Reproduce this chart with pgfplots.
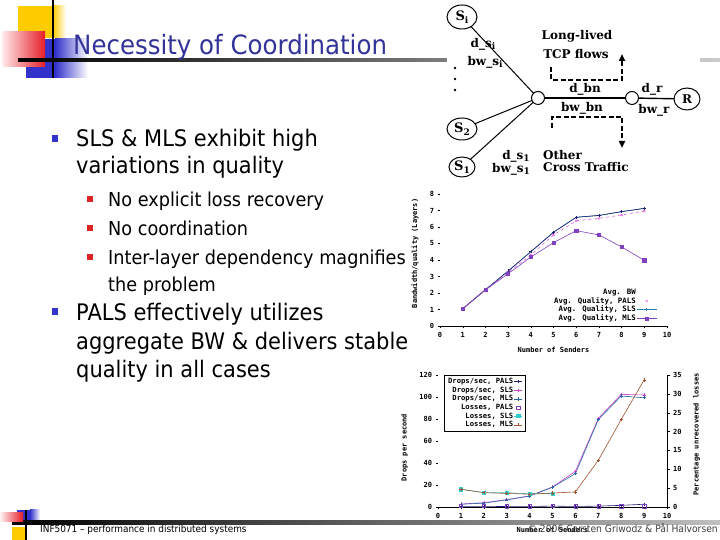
\documentclass[border=0pt]{standalone}
\usepackage{pgfplots}
\pgfplotsset{compat=1.18}
\usepackage{fontspec}
\setmainfont{DejaVu Sans}
\newfontfamily\tahoma[FakeStretch=0.92]{DejaVu Sans}
\newfontfamily\gp{DejaVu Sans Mono}
\newfontfamily\tms{DejaVu Serif}
\usetikzlibrary{arrows.meta}
\definecolor{titleblue}{RGB}{51,51,153}
\definecolor{bulblue}{RGB}{51,51,204}
\definecolor{bulred}{RGB}{221,34,34}
\definecolor{logoyellow}{RGB}{255,204,0}
\definecolor{logoblue}{RGB}{51,51,204}
\definecolor{logored}{RGB}{230,30,40}
\definecolor{cnavy}{RGB}{32,32,112}
\definecolor{cpink}{RGB}{220,100,220}
\definecolor{cteal}{RGB}{40,130,170}
\definecolor{cpurple}{RGB}{128,64,192}
\definecolor{cmag}{RGB}{204,68,204}
\definecolor{cblue}{RGB}{34,102,170}
\definecolor{ccyan}{RGB}{51,204,204}
\definecolor{cbrown}{RGB}{160,82,45}
\newcommand{\gpf}{\gp\bfseries\fontsize{7}{7.5}\selectfont}
\newcommand{\gps}{\gp\bfseries\fontsize{7.4}{8}\selectfont}
\newcommand{\gpl}{\gp\bfseries\fontsize{7.2}{8}\selectfont}
\newcommand{\sub}[1]{\raisebox{-2.5pt}{\fontsize{9}{9}\selectfont #1}}
\begin{document}
\begin{tikzpicture}[x=1pt,y=1pt]
\path[use as bounding box] (0,0) rectangle (720,540);
\fill[white] (0,0) rectangle (720,540);
% ---------- top logo ----------
\fill[logoyellow] (18,502) rectangle (53,534);
\shade[left color=logoyellow, right color=white] (53,502) rectangle (66,534);
\fill[logoblue] (26,462) rectangle (55,501);
\shade[left color=logoblue, right color=white] (55,462) rectangle (88,501);
\shade[left color=red!8, right color=logored] (2,473) rectangle (45,508);
\draw[black, line width=1.8pt] (53,540) -- (53,462);
\shade[left color=black, middle color=black!55, right color=black!20] (18,478.5) rectangle (720,481.5);
\fill[white] (447,470) rectangle (700,490);
% ---------- title ----------
\node[anchor=base west, inner sep=0pt, text=titleblue, font=\tahoma\fontsize{26.6}{27}\selectfont] at (73,485) {Necessity of Coordination};
% ---------- bullets ----------
\begin{scope}[every node/.style={anchor=base west, inner sep=0pt}]
\fill[bulblue] (52,398) rectangle (58,405);
\node[font=\tahoma\fontsize{22.8}{23}\selectfont] at (76,393.3) {SLS \& MLS exhibit high};
\node[font=\tahoma\fontsize{22.8}{23}\selectfont] at (76,366) {variations in quality};
\fill[bulred] (87,338) rectangle (93,344);
\node[font=\tahoma\fontsize{19.2}{20}\selectfont] at (108,333) {No explicit loss recovery};
\fill[bulred] (87,309) rectangle (93,315);
\node[font=\tahoma\fontsize{19.2}{20}\selectfont] at (108,304) {No coordination};
\fill[bulred] (87,280) rectangle (93,286);
\node[font=\tahoma\fontsize{19.2}{20}\selectfont] at (108,275) {Inter-layer dependency magnifies};
\node[font=\tahoma\fontsize{19.2}{20}\selectfont] at (108,248) {the problem};
\fill[bulblue] (52,225) rectangle (58,232);
\node[font=\tahoma\fontsize{22.8}{23}\selectfont] at (76,219) {PALS effectively utilizes};
\node[font=\tahoma\fontsize{22.8}{23}\selectfont] at (76,190.7) {aggregate BW \& delivers stable};
\node[font=\tahoma\fontsize{22.8}{23}\selectfont] at (76,162.3) {quality in all cases};
\end{scope}
% ---------- network diagram ----------
\begin{scope}[font=\tms\bfseries\fontsize{12}{13}\selectfont]
\draw[line width=1pt] (462,523)--(538,442);
\draw[line width=1pt] (462,411)--(538,442);
\draw[line width=1pt] (462,373)--(538,442);
\draw[line width=2.6pt] (538,442)--(632,442);
\draw[line width=1.4pt] (632,442)--(687,441);
\filldraw[fill=white, line width=1pt] (462,523) ellipse [x radius=15pt, y radius=12pt];
\filldraw[fill=white, line width=1pt] (462,411) ellipse [x radius=15pt, y radius=11pt];
\filldraw[fill=white, line width=1pt] (462,373) ellipse [x radius=13pt, y radius=10pt];
\filldraw[fill=white, line width=1pt] (538,442) circle [radius=6.5pt];
\filldraw[fill=white, line width=1pt] (632,442) circle [radius=6.5pt];
\filldraw[fill=white, line width=1pt] (687,441) ellipse [x radius=13pt, y radius=11pt];
\node[font=\tms\bfseries\fontsize{13}{13}\selectfont] at (462,523) {S\sub{i}};
\node[font=\tms\bfseries\fontsize{13}{13}\selectfont] at (462,411) {S\sub{2}};
\node[font=\tms\bfseries\fontsize{13}{13}\selectfont] at (462,373) {S\sub{1}};
\node at (687,441) {R};
\node at (483,496) {d\_s\sub{i}};
\node at (485,478) {bw\_s\sub{i}};
\fill (455,472) circle [radius=1.3pt];
\fill (455,461) circle [radius=1.3pt];
\fill (455,450) circle [radius=1.3pt];
\node at (577,504) {Long-lived};
\node at (576,486) {TCP flows};
\draw[line width=2pt, dash pattern=on 5pt off 2.5pt, -{Triangle[length=7pt,width=6pt]}] (551,473)--(551,460)--(622,460)--(622,486);
\node at (585,451) {d\_bn};
\node at (582,432) {bw\_bn};
\draw[line width=2pt, dash pattern=on 5pt off 2.5pt, -{Triangle[length=7pt,width=6pt]}] (552,412)--(552,423)--(622,423)--(622,392);
\node[anchor=west, inner sep=0pt] at (543,385) {Other};
\node[anchor=west, inner sep=0pt] at (543,373) {Cross Traffic};
\node at (516,384) {d\_s\sub{1}};
\node at (511,371) {bw\_s\sub{1}};
\node at (652,451) {d\_r};
\node at (654,430) {bw\_r};
\end{scope}
% ---------- chart 1 ----------
\begin{axis}[
  at={(440pt,214pt)}, anchor=south west, scale only axis,
  width=227pt, height=132pt,
  xmin=0, xmax=10, ymin=0, ymax=8,
  xtick={0,...,10}, ytick={0,...,8},
  axis x line*=bottom, axis y line*=left,
  axis line style={-}, y axis line style={draw=none},
  tick align=outside, major tick length=2.5pt,
  tick style={black, line width=0.4pt},
  ticklabel style={font=\gpf},
  /pgf/number format/assume math mode=true,
  xlabel={Number of Senders}, ylabel={Bandwidth/quality (Layers)},
  label style={font=\gpf},
  xlabel style={at={(axis description cs:0.5,-0.18)}, anchor=center},
  ylabel style={at={(axis description cs:-0.11,0.55)}, anchor=center},
  legend plot pos=right, legend cell align=right,
  legend image code/.code={\draw[mark repeat=2,mark phase=2,#1] plot coordinates {(0pt,0pt)(10pt,0pt)(20pt,0pt)};},
  legend style={draw=none, fill=none, font=\gps, at={(axis cs:9.7,0.06)}, anchor=south east, row sep=0pt, nodes={inner sep=0.6pt}},
  mark size=1.6pt,
]
\addplot[cteal, line width=0.6pt, mark=+, forget plot] coordinates {(1,1.05)(2,2.2)(3,3.33)(4,4.5)(5,5.68)(6,6.59)(7,6.7)(8,6.93)(9,7.13)};
\addplot[cnavy, line width=0.6pt, mark=+, forget plot] coordinates {(1,1.05)(2,2.2)(3,3.33)(4,4.5)(5,5.68)(6,6.59)(7,6.7)(8,6.93)(9,7.13)};
\addplot[cpink, line width=0.6pt, dashed, mark=x, mark options={solid}, forget plot] coordinates {(1,1.05)(2,2.2)(3,3.25)(4,4.3)(5,5.52)(6,6.38)(7,6.52)(8,6.73)(9,6.97)};
\addplot[cpurple, line width=0.6pt, mark=square*, forget plot] coordinates {(1,1.03)(2,2.18)(3,3.17)(4,4.18)(5,5.05)(6,5.78)(7,5.52)(8,4.79)(9,3.98)};
\addlegendimage{empty legend}\addlegendentry{Avg. BW}
\addlegendimage{cpink, only marks, mark=x}\addlegendentry{Avg. Quality, PALS}
\addlegendimage{cteal, line width=0.6pt, mark=+}\addlegendentry{Avg. Quality, SLS}
\addlegendimage{cpurple, line width=0.6pt, mark=square*}\addlegendentry{Avg. Quality, MLS}
\end{axis}
% ---------- chart 2 (left axis) ----------
\begin{axis}[
  at={(438pt,33pt)}, anchor=south west, scale only axis,
  width=229pt, height=132pt,
  xmin=0, xmax=10, ymin=0, ymax=120,
  xtick={0,...,10}, ytick={0,20,...,120},
  axis x line*=bottom, axis y line*=left,
  axis line style={-}, y axis line style={draw=none},
  tick align=outside, major tick length=2.5pt,
  tick style={black, line width=0.4pt},
  ticklabel style={font=\gpf},
  /pgf/number format/assume math mode=true,
  xlabel={Number of Senders}, ylabel={Drops per second},
  label style={font=\gpf},
  xlabel style={at={(axis description cs:0.5,-0.175)}, anchor=center},
  ylabel style={at={(axis description cs:-0.145,0.45)}, anchor=center},
  mark size=1.6pt,
]
\addplot[cnavy, line width=0.6pt, mark=+] coordinates {(1,0.3)(2,0.3)(3,0.5)(4,0.5)(5,0.8)(6,0.5)(7,0.8)(8,1.5)(9,2.5)};
\addplot[cmag, line width=0.6pt, mark=+] coordinates {(1,2.7)(2,3.9)(3,6.7)(4,10)(5,18.2)(6,32.5)(7,80.5)(8,102.4)(9,101.8)};
\addplot[cblue, line width=0.6pt, mark=+] coordinates {(1,2.5)(2,3.5)(3,6.5)(4,10)(5,18)(6,30.4)(7,79.5)(8,100.9)(9,99.3)};
\end{axis}
% ---------- chart 2 (right axis) ----------
\begin{axis}[
  at={(438pt,33pt)}, anchor=south west, scale only axis,
  width=229pt, height=132pt,
  xmin=0, xmax=10, ymin=0, ymax=35,
  ytick={0,5,...,35},
  axis x line=none, axis y line*=right,
  axis line style={-, line width=0.6pt},
  tick align=outside, major tick length=2.5pt,
  tick style={black, line width=0.4pt},
  ticklabel style={font=\gpf},
  /pgf/number format/assume math mode=true,
  ylabel={Percentage unrecovered losses},
  label style={font=\gpf},
  ylabel style={at={(axis description cs:1.13,0.55)}, anchor=center},
  legend plot pos=right, legend cell align=right,
  legend image code/.code={\draw[mark repeat=2,mark phase=2,#1] plot coordinates {(0pt,0pt)(4pt,0pt)(8pt,0pt)};},
  legend style={draw=black, fill=white, line width=0.6pt, font=\gpl, at={(axis description cs:0.026,1.0)}, anchor=north west, row sep=0pt, nodes={inner sep=0.9pt}},
  mark size=1.6pt,
]
\addlegendimage{cnavy, line width=0.6pt, mark=+}\addlegendentry{Drops/sec, PALS}
\addlegendimage{cmag, line width=0.6pt, mark=+}\addlegendentry{Drops/sec, SLS}
\addlegendimage{cblue, line width=0.6pt, mark=+}\addlegendentry{Drops/sec, MLS}
\addplot[cpurple, only marks, mark=square] coordinates {(1,0.4)(2,0.4)(3,0.2)(4,0.2)(5,0.4)(6,0.2)(7,0.2)(8,0.2)(9,0.2)};
\addlegendentry{Losses, PALS}
\addplot[ccyan, line width=0.6pt, mark=square*] coordinates {(1,4.7)(2,3.8)(3,3.8)(4,3.5)(5,3.6)};
\addlegendentry{Losses, SLS}
\addplot[cbrown, line width=0.6pt, mark=+] coordinates {(1,4.7)(2,3.8)(3,3.6)(4,3.4)(5,3.7)(6,4.0)(7,12.4)(8,23.2)(9,33.7)};
\addlegendentry{Losses, MLS}
\end{axis}
% ---------- footer ----------
\shade[left color=black, middle color=black!60, right color=black!25] (12,15) rectangle (720,19);
\fill[logoblue] (17,20) rectangle (30,30);
\shade[left color=logoblue, right color=white] (30,20) rectangle (40,30);
\shade[left color=red!5, right color=logored] (0,18) rectangle (23,27);
\fill[logoyellow] (12,0) rectangle (27,13);
\draw[black, line width=1.5pt] (26,30) -- (26,0);
\node[anchor=base west, inner sep=0pt, font=\tahoma\fontsize{9.7}{10}\selectfont] at (40,7) {INF5071 – performance in distributed systems};
\node[anchor=base east, inner sep=0pt, font=\tahoma\fontsize{10}{10}\selectfont, text=black!75] at (718,7) {© 2006 Carsten Griwodz \& Pål Halvorsen};
\end{tikzpicture}
\end{document}
